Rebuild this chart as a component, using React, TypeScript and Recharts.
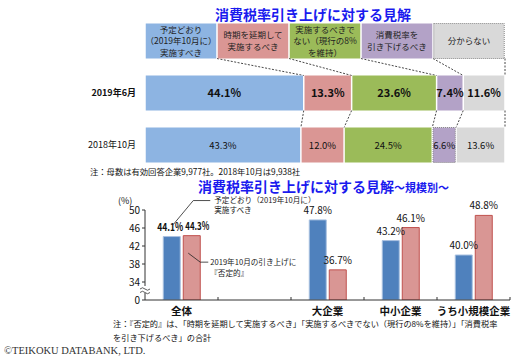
import { BarChart, Bar, XAxis, YAxis, LabelList } from 'recharts';

const FONT = '"Noto Sans CJK JP", "Noto Sans", sans-serif';
const TITLE_BLUE = '#1a1aee';

// --- top chart: header (legend boxes) + two survey rows ---
const opinionKeys = ['planned', 'postpone', 'keep8', 'lower', 'unknown'];
const opinionColors = ['#8db4e2', '#da9694', '#9bbb59', '#b3a2c7', '#d9d9d9'];
const opinionLabels = [
  ['予定どおり', '（2019年10月に）', '実施すべき'],
  ['時期を延期して', '実施するべき'],
  ['実施するべきで', 'ない（現行の8%', 'を維持）'],
  ['消費税率を', '引き下げるべき'],
  ['分からない'],
];
const headerShare = [20, 20, 20, 20, 20];
const jun2019 = [44.1, 13.3, 23.6, 7.4, 11.6];
const oct2018 = [43.3, 12.0, 24.5, 6.6, 13.6];
const rowNames = ['header', '2019年6月', '2018年10月'];

// --- bottom chart: by company size ---
const sizeNames = ['全体', ' ', '大企業', '中小企業', 'うち小規模企業'];
const plannedShare = [44.1, null, 47.8, 43.2, 40.0];
const negativeShare = [44.3, null, 36.7, 46.1, 48.8];
const yTicks = [30, 34, 38, 42, 46, 50];

const toRow = (name: string, vals: number[]) => {
  const row: any = { name };
  opinionKeys.forEach((k, i) => { row[k] = vals[i]; });
  return row;
};
const topData = [
  toRow(rowNames[0], headerShare),
  toRow(rowNames[1], jun2019),
  toRow(rowNames[2], oct2018),
];
const rowValues = [headerShare, jun2019, oct2018];

const sizeData = sizeNames.map((name, i) => ({
  name,
  planned: plannedShare[i],
  negative: negativeShare[i],
}));

const TOP_W = 529, TOP_H = 175, TOP_MT = 14.5, TOP_MB = 4.5, TOP_LEFT = 145, TOP_MR = 24;
const BAND = (TOP_H - TOP_MT - TOP_MB) / topData.length;

const BOT_W = 529, BOT_H = 130, BOT_LEFT = 145, BOT_MR = 19;
const BOT_BAND = (BOT_W - BOT_LEFT - BOT_MR) / sizeNames.length;

function makeSegment(k: number) {
  return (props: any) => {
    const { x, y, width, height, index } = props;
    const row = topData[index];
    const next = topData[index + 1];
    let link = null;
    if (next && row[opinionKeys[k]] > 0) {
      const ppu = width / row[opinionKeys[k]];
      const before = opinionKeys.slice(0, k).reduce((s, key) => s + row[key], 0);
      const x0 = x - before * ppu;
      const nextCum = opinionKeys.slice(0, k + 1).reduce((s, key) => s + next[key], 0);
      link = (
        <line
          x1={x + width} y1={y + height}
          x2={x0 + nextCum * ppu} y2={y + BAND}
          stroke="#333" strokeWidth={0.9} strokeDasharray="2 1.5"
        />
      );
    }
    const dotted = (k === 4 && index === 0) || (k === 3 && index === 2);
    return (
      <g>
        <rect
          x={x + 0.75} y={y} width={Math.max(width - 1.5, 0)} height={height}
          fill={opinionColors[k]}
          stroke={dotted ? '#8a8a8a' : 'none'}
          strokeDasharray={dotted ? '1 1' : undefined}
        />
        {link}
      </g>
    );
  };
}

function makeTopLabel(k: number) {
  return (props: any) => {
    const vb = props.viewBox || props;
    const { x, y, width, height } = vb;
    const index = props.index;
    const cx = x + width / 2;
    const cy = y + height / 2;
    if (index === 0) {
      const lines = opinionLabels[k];
      const lh = 11.5;
      return (
        <text textAnchor="middle" fontSize={8.5} fill="#222" fontFamily={FONT}>
          {lines.map((l, i) => (
            <tspan key={i} x={cx} y={cy + (i - (lines.length - 1) / 2) * lh + 3.2}>{l}</tspan>
          ))}
        </text>
      );
    }
    const v = rowValues[index][k];
    const bold = index === 1;
    return (
      <text x={cx} y={cy + 4} textAnchor="middle" fontSize={bold ? 11 : 9.5}
        fontWeight={bold ? 700 : 400} fill="#111" fontFamily={FONT}>
        {v.toFixed(1)}%
      </text>
    );
  };
}

const RowTick = (props: any) => {
  const { y, payload } = props;
  if (payload.value === 'header') return <g />;
  const bold = payload.value === rowNames[1];
  return (
    <text x={136} y={y + 3.5} textAnchor="end" fontSize={9} fontWeight={bold ? 700 : 400}
      fill="#111" fontFamily={FONT}>
      {payload.value}
    </text>
  );
};

const PlannedLabel = (props: any) => {
  const { x, y, width, index, value } = props;
  if (value == null) return null;
  const cx = x + width / 2;
  if (index === 0) {
    return (
      <g fontFamily={FONT}>
        <text x={cx - 14.5} y={y - 6} fontSize={11} fontWeight={700} fill="#111"
          textLength={26} lengthAdjust="spacingAndGlyphs">
          {value.toFixed(1)}%
        </text>
        <polyline points={`${x + 10},${y - 12} ${x + 30},${y - 36} ${x + 47},${y - 36}`}
          fill="none" stroke="#222" strokeWidth={0.8} />
        <text fontSize={7.6} fill="#222">
          <tspan x={x + 51} y={y - 33.5}>予定どおり（2019年10月に）</tspan>
          <tspan x={x + 51} y={y - 23.5}>実施すべき</tspan>
        </text>
      </g>
    );
  }
  return (
    <text x={cx} y={y - 6} textAnchor="middle" fontSize={10} fill="#111" fontFamily={FONT}>
      {value.toFixed(1)}%
    </text>
  );
};

const NegativeLabel = (props: any) => {
  const { x, y, width, index, value } = props;
  if (value == null) return null;
  const cx = x + width / 2;
  if (index === 0) {
    return (
      <g fontFamily={FONT}>
        <text x={cx - 6.5} y={y - 6} fontSize={11} fontWeight={700} fill="#111"
          textLength={24} lengthAdjust="spacingAndGlyphs">
          {value.toFixed(1)}%
        </text>
        <polyline points={`${x + 5},${y + 17.5} ${x + 17},${y + 26.5} ${x + 25},${y + 26.5}`}
          fill="none" stroke="#222" strokeWidth={0.8} />
        <text fontSize={7.6} fill="#222">
          <tspan x={x + 27} y={y + 29.5}>2019年10月の引き上げに</tspan>
          <tspan x={x + 27} y={y + 40}>『否定的』</tspan>
        </text>
      </g>
    );
  }
  return (
    <text x={cx} y={y - 6} textAnchor="middle" fontSize={10} fill="#111" fontFamily={FONT}>
      {value.toFixed(1)}%
    </text>
  );
};

const SizeTick = (props: any) => {
  const { x, y, payload } = props;
  const edge = x + BOT_BAND / 2;
  return (
    <g>
      <line x1={edge} x2={edge} y1={y - 11} y2={y - 8} stroke="#333" strokeWidth={1} />
      <text x={x} y={y + 7} textAnchor="middle" fontSize={10.5} fontWeight={700} fill="#111"
        fontFamily={FONT}>
        {payload.value}
      </text>
    </g>
  );
};

export default function App() {
  return (
    <div style={{ position: 'absolute', left: 0, top: 0, width: 529, height: 364, background: '#fff', fontFamily: FONT }}>
      <div style={{ position: 'absolute', left: 0, top: 0 }}>
        <BarChart
          width={TOP_W} height={TOP_H} data={topData} layout="vertical"
          margin={{ top: TOP_MT, right: TOP_MR, bottom: TOP_MB, left: 0 }}
        >
          <XAxis type="number" hide domain={[0, 100]} />
          <YAxis type="category" dataKey="name" width={TOP_LEFT} axisLine={false} tickLine={false}
            tick={<RowTick />} />
          {opinionKeys.map((k, i) => (
            <Bar key={k} dataKey={k} stackId="a" barSize={35} fill={opinionColors[i]}
              shape={makeSegment(i)} isAnimationActive={false}>
              <LabelList dataKey={k} content={makeTopLabel(i)} />
            </Bar>
          ))}
        </BarChart>
      </div>

      <div style={{ position: 'absolute', left: 0, top: 195 }}>
        <BarChart
          width={BOT_W} height={BOT_H} data={sizeData}
          margin={{ top: 15, right: BOT_MR, bottom: 0, left: 0 }}
          barCategoryGap="25%" barGap={3}
        >
          <XAxis dataKey="name" height={25} tickLine={false} axisLine={{ stroke: '#333' }}
            tick={<SizeTick />} interval={0} />
          <YAxis width={BOT_LEFT} domain={[30, 50]} ticks={yTicks} allowDataOverflow
            tickFormatter={(v: number) => (v === 30 ? '0' : String(v))}
            tick={{ fontSize: 10, fill: '#111', fontFamily: FONT }}
            axisLine={{ stroke: '#333' }} tickLine={{ stroke: '#333' }} tickSize={3} />
          <Bar dataKey="planned" fill="#4f81bd" stroke="#a9c1e0" strokeWidth={1} isAnimationActive={false}>
            <LabelList dataKey="planned" content={<PlannedLabel />} />
          </Bar>
          <Bar dataKey="negative" fill="#d99694" stroke="#c0504d" strokeWidth={1} isAnimationActive={false}>
            <LabelList dataKey="negative" content={<NegativeLabel />} />
          </Bar>
        </BarChart>
      </div>

      <svg width={529} height={364} style={{ position: 'absolute', left: 0, top: 0, pointerEvents: 'none' }}
        fontFamily={FONT}>
        <text x={313} y={19.5} textAnchor="middle" fontSize={14} fontWeight={700} fill={TITLE_BLUE}>
          消費税率引き上げに対する見解
        </text>
        <text x={90} y={175} fontSize={8.3} fill="#111">
          注：母数は有効回答企業9,977社。2018年10月は9,938社
        </text>
        <text x={198} y={191.5} fontSize={14} fontWeight={700} fill={TITLE_BLUE}>
          消費税率引き上げに対する見解<tspan fontSize={11}>～規模別～</tspan>
        </text>
        <text x={118} y={203.5} fontSize={9} fill="#111">(%)</text>
        {/* axis break */}
        <rect x={140} y={286} width={10} height={7} fill="#fff" />
        <path d="M140,289 q2.5,-2.5 5,0 t5,0 M140,292.5 q2.5,-2.5 5,0 t5,0" fill="none" stroke="#333" strokeWidth={0.8} />
        <text fontSize={8.2} fill="#111">
          <tspan x={113} y={327}>注：『否定的』は、「時期を延期して実施するべき」「実施するべきでない（現行の8%を維持）」「消費税率</tspan>
          <tspan x={113} y={340.5}>を引き下げるべき」の合計</tspan>
        </text>
        <text x={4} y={354} fontSize={10.5} fill="#333" fontFamily='"Liberation Serif", serif'>
          ©TEIKOKU DATABANK, LTD.
        </text>
      </svg>
    </div>
  );
}
